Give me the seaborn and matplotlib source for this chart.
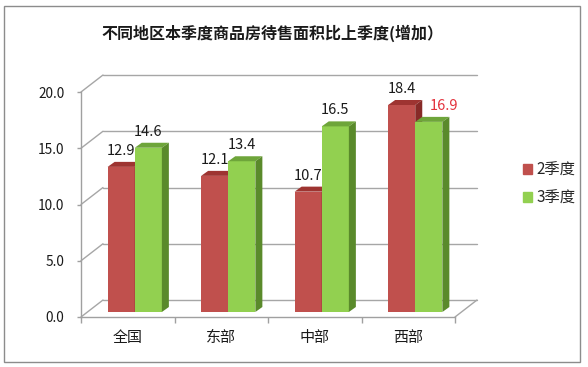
import numpy as np
import pandas as pd
import matplotlib
matplotlib.use("Agg")
import matplotlib.pyplot as plt
import matplotlib.patches as mpatches
from matplotlib.transforms import offset_copy
import seaborn as sns

# data
regions = ["全国", "东部", "中部", "西部"]
quarters = ["2季度", "3季度"]
q2_values = [12.9, 12.1, 10.7, 18.4]
q3_values = [14.6, 13.4, 16.5, 16.9]
y_ticks = [0, 5, 10, 15, 20]
title = "不同地区本季度商品房待售面积比上季度(增加）"

# excel-like 3d colours
front_colors = ["#c0504d", "#92d050"]
top_colors = ["#9e3431", "#6ea53a"]
side_colors = ["#872a27", "#5a8a2b"]
label_colors = [["#1a1a1a"] * 4, ["#1a1a1a", "#1a1a1a", "#1a1a1a", "#e3323c"]]
grid_color = "#a6a6a6"

sns.set_theme(style="white")
plt.rcParams["font.family"] = ["Noto Sans CJK SC", "DejaVu Sans"]

df = pd.DataFrame({
    "地区": regions * 2,
    "季度": [quarters[0]] * 4 + [quarters[1]] * 4,
    "增加": q2_values + q3_values,
})

fig = plt.figure(figsize=(5.88, 3.67), dpi=100)
ax = fig.add_axes([81 / 588, 50 / 367, 374 / 588, 225 / 367])

sns.barplot(data=df, x="地区", y="增加", hue="季度", palette=front_colors,
            width=0.58, saturation=1, ax=ax, legend=False)
ax.set_xlim(-0.5, 3.5)
ax.set_ylim(0, 20)


def px(dx, dy):
    # pixels -> data units
    o = ax.transData.transform((0, 0))
    ux = ax.transData.transform((1, 0))[0] - o[0]
    uy = ax.transData.transform((0, 1))[1] - o[1]
    return dx / ux, dy / uy


# back wall / floor / side wall
wx, wy = px(22, 17)
for t in y_ticks:
    ax.plot([-0.5 + wx, 3.5 + wx], [t + wy, t + wy], color=grid_color,
            lw=1, zorder=0.5, clip_on=False)
    ax.plot([-0.5, -0.5 + wx], [t, t + wy], color=grid_color,
            lw=1, zorder=0.5, clip_on=False)
ax.plot([3.5, 3.5 + wx], [0, wy], color=grid_color, lw=1, zorder=0.5,
        clip_on=False)

# bars sit a bit behind the front plane
shift = offset_copy(ax.transData, fig=fig, x=7, y=5, units="dots")
sx, sy = px(7, 5)
for i, cont in enumerate(ax.containers):
    for j, bar in enumerate(cont):
        x, w, h = bar.get_x(), bar.get_width(), bar.get_height()
        z = 2 + i
        bar.set_transform(shift)
        bar.set_zorder(z)
        bar.set_clip_on(False)
        bar.set_edgecolor("none")
        top = mpatches.Polygon([(x, h), (x + w, h), (x + w + sx, h + sy), (x + sx, h + sy)],
                               closed=True, facecolor=top_colors[i], edgecolor="none",
                               transform=shift, zorder=z, clip_on=False)
        side = mpatches.Polygon([(x + w, 0), (x + w + sx, sy), (x + w + sx, h + sy), (x + w, h)],
                                closed=True, facecolor=side_colors[i], edgecolor="none",
                                transform=shift, zorder=z, clip_on=False)
        ax.add_patch(top)
        ax.add_patch(side)
        # the last green label was moved aside in the original
        off_x = 15 if (i == 1 and j == 3) else 0
        ax.annotate(f"{h:.1f}", (x + w / 2, h), xytext=(7 + off_x, 21),
                    textcoords="offset pixels", ha="center", va="center",
                    fontsize=10.5, color=label_colors[i][j], zorder=5,
                    annotation_clip=False)

# axes styling
for s in ["top", "right"]:
    ax.spines[s].set_visible(False)
for s in ["left", "bottom"]:
    ax.spines[s].set_color("#a0a0a0")
    ax.spines[s].set_linewidth(1)
ax.set_yticks(y_ticks)
ax.set_yticklabels([f"{t:.1f}" for t in y_ticks])
ax.set_xticks(range(len(regions)))
ax.set_xticklabels(regions)
ax.set_xticks(np.arange(-0.5, len(regions)), minor=True)
ax.tick_params(axis="y", length=3, width=1, color="#a0a0a0", pad=9,
               labelsize=9.8, labelcolor="#1a1a1a", left=True)
ax.tick_params(axis="x", which="major", length=0, pad=10, labelsize=10.8,
               labelcolor="#1a1a1a")
ax.tick_params(axis="x", which="minor", length=4, width=1, color="#a0a0a0",
               bottom=True)
ax.set_xlabel("")
ax.set_ylabel("")

fig.text(272 / 588, 1 - 33 / 367, title, ha="center", va="center",
         fontsize=11.5, fontweight="bold", color="#1a1a1a")

handles = [mpatches.Patch(color=c, label=q) for c, q in zip(front_colors, quarters)]
fig.legend(handles=handles, loc="center left", bbox_to_anchor=(509 / 588, 1 - 184 / 367),
           frameon=False, fontsize=11, handlelength=0.6, handleheight=0.6,
           handletextpad=0.3, labelspacing=0.7)

fig.add_artist(mpatches.Rectangle((4 / 588, 5 / 367), 576 / 588, 356 / 367,
                                  transform=fig.transFigure, fill=False,
                                  edgecolor="#8c8c8c", lw=1))

fig.savefig("out.png", dpi=100)
